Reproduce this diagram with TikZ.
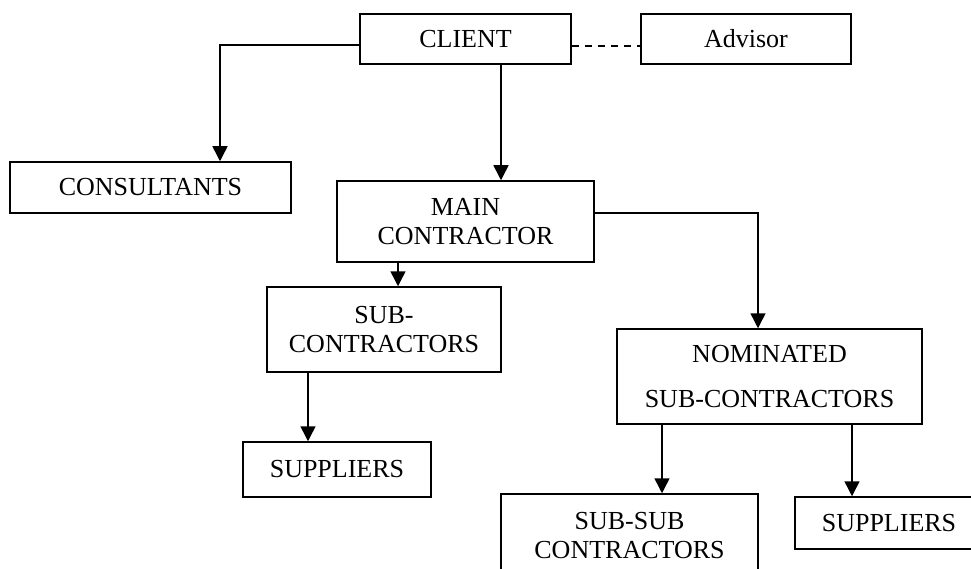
\documentclass[tikz,border=0pt]{standalone}
\usepackage{fontspec}
\setmainfont{Liberation Serif}
\usetikzlibrary{arrows.meta}
\begin{document}
\begin{tikzpicture}[x=1pt,y=-1pt,
  box/.style={draw,line width=1.5pt,inner sep=0pt,align=center,
    font=\fontsize{26}{29}\selectfont},
  arr/.style={line width=1.5pt,-{Triangle[length=15pt,width=15pt]}},
  dashline/.style={line width=1.5pt,dash pattern=on 7pt off 6pt}]
\clip (0,0) rectangle (971,569);
\fill[white] (0,0) rectangle (971,569);
\node[box,minimum width=211pt,minimum height=50pt] (client) at (465.5,39) {CLIENT};
\node[box,minimum width=210pt,minimum height=50pt] (advisor) at (746,39) {Advisor};
\node[box,minimum width=281pt,minimum height=51pt] (cons) at (150.5,187.5) {CONSULTANTS};
\node[box,minimum width=257pt,minimum height=81pt] (main) at (465.5,221.5) {MAIN\\CONTRACTOR};
\node[box,minimum width=234pt,minimum height=85pt] (sub) at (384,329.5) {SUB-\\CONTRACTORS};
\node[box,minimum width=188pt,minimum height=55pt] (supp) at (337,469.5) {SUPPLIERS};
\node[box,minimum width=305pt,minimum height=95pt] (nom) at (769.5,376.5) {NOMINATED\\[16pt]SUB-CONTRACTORS};
\node[box,minimum width=257pt,minimum height=83pt] (subsub) at (629.5,535.5) {SUB-SUB\\CONTRACTORS};
\node[box,minimum width=188pt,minimum height=52pt] (supptwo) at (889,523) {SUPPLIERS};
\draw[dashline] ([yshift=-7pt]client.east) -- ([yshift=-7pt]advisor.west);
\draw[arr] ([yshift=-6pt]client.west) -| ([xshift=69.5pt]cons.north);
\draw[arr] ([xshift=35.5pt]client.south) -- ([xshift=35.5pt]main.north);
\draw[arr] ([yshift=8.5pt]main.east) -| ([xshift=-11.5pt]nom.north);
\draw[arr] ([xshift=-67.5pt]main.south) -- ([xshift=14pt]sub.north);
\draw[arr] ([xshift=-76pt]sub.south) -- ([xshift=-29pt]supp.north);
\draw[arr] ([xshift=-107.5pt]nom.south) -- ([xshift=32.5pt]subsub.north);
\draw[arr] ([xshift=82.5pt]nom.south) -- ([xshift=-37pt]supptwo.north);
\end{tikzpicture}
\end{document}
